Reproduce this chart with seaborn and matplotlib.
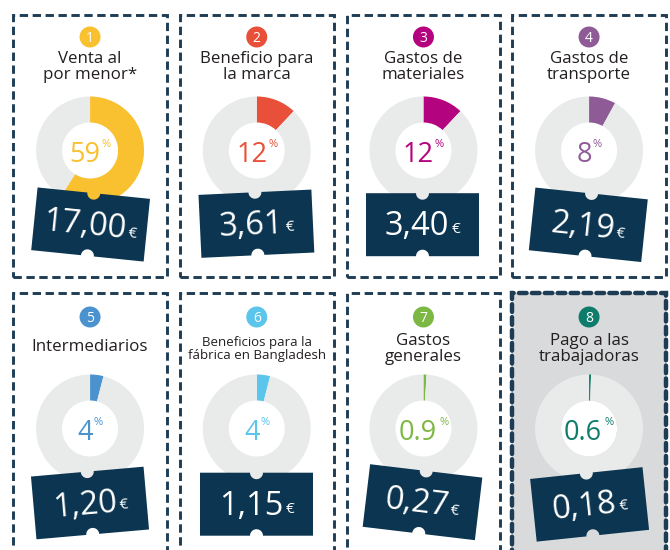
import numpy as np
import matplotlib
matplotlib.use("Agg")
import matplotlib.pyplot as plt
import seaborn as sns
from matplotlib import font_manager as fm
from matplotlib.patches import Rectangle, Circle, PathPatch
from matplotlib.path import Path
from matplotlib.transforms import Affine2D

# ---------------- data ----------------
badges = ["1", "2", "3", "4", "5", "6", "7", "8"]
titles = ["Venta al\npor menor*", "Beneficio para\nla marca", "Gastos de\nmateriales",
          "Gastos de\ntransporte", "Intermediarios", "Beneficios para la\nfábrica en Bangladesh",
          "Gastos\ngenerales", "Pago a las\ntrabajadoras"]
shares = [59, 12, 12, 8, 4, 4, 0.9, 0.6]
share_labels = ["59", "12", "12", "8", "4", "4", "0.9", "0.6"]
prices = ["17,00", "3,61", "3,40", "2,19", "1,20", "1,15", "0,27", "0,18"]
colors = ["#F9C02F", "#E8503A", "#B4037E", "#8E5B96", "#4A93CF", "#5BC5EC", "#7CB843", "#0E7C6B"]

# ---------------- style / layout ----------------
sns.set_theme(style="white")
plt.rcParams["lines.scale_dashes"] = False
plt.rcParams["font.family"] = ["Open Sans", "DejaVu Sans"]
palette = sns.color_palette(colors)

navy = "#0B3550"
border = "#1E3D55"
ring_grey = "#E9EAEA"
ink = "#231F20"


def fp(size):
    return fm.FontProperties(family=["Open Sans", "DejaVu Sans"], size=size)


W, H = 670, 550
fig = plt.figure(figsize=(6.7, 5.5), dpi=100)
ax = fig.add_axes([0, 0, 1, 1])
renderer = fig.canvas.get_renderer()


def Y(y):
    return H - y


panel_left = [13.3, 180.0, 346.7, 512.3]
panel_w, panel_h = 153.5, 261.7
row_top = [15.0, 293.3]
badge_y = [37.0, 317.0]
title_y = [67.0, 349.0]
donut_y = [150.5, 428.5]
r_out, ring = 54, 26
tickets = [(90.6, 224.5, -5.8), (256.4, 223.7, 2.7), (422.5, 224.7, 0.0), (588.3, 224.8, -6.0),
           (90.0, 503.0, 5.0), (256.5, 504.2, 0.0), (422.5, 502.2, -6.8), (589.6, 504.4, 6.0)]
tw, th_, notch = 113, 63, 6.5


def ticket_path(w, h, r):
    n = 16
    v = [(-w / 2, -h / 2), (-r, -h / 2)]
    for t in np.linspace(np.pi, 0, n):
        v.append((r * np.cos(t), -h / 2 + r * np.sin(t)))
    v += [(w / 2, -h / 2), (w / 2, h / 2), (r, h / 2)]
    for t in np.linspace(0, -np.pi, n):
        v.append((r * np.cos(t), h / 2 + r * np.sin(t)))
    v += [(-w / 2, h / 2), (-w / 2, -h / 2)]
    return Path(v, closed=True)


def width_px(s, prop):
    t = ax.text(0, 0, s, fontproperties=prop)
    w = t.get_window_extent(renderer=renderer).width
    t.remove()
    return w


def pair(big, small, cx, cy, angle, pbig, psmall, gap, small_rise, color, z):
    wb = width_px(big, pbig)
    ws = width_px(small, psmall)
    cap = 0.72 * pbig.get_size_in_points() * 100 / 72
    a = np.radians(angle)
    u = np.array([np.cos(a), np.sin(a)])
    n = np.array([-np.sin(a), np.cos(a)])
    c = np.array([cx, Y(cy)])
    start = c - u * (wb + gap + ws) / 2 - n * cap / 2
    ax.text(*start, big, fontproperties=pbig, color=color, rotation=angle,
            rotation_mode="anchor", ha="left", va="baseline", zorder=z)
    p2 = start + u * (wb + gap) + n * small_rise
    ax.text(*p2, small, fontproperties=psmall, color=color, rotation=angle,
            rotation_mode="anchor", ha="left", va="baseline", zorder=z)


for i in range(8):
    row, col = divmod(i, 4)
    x0 = panel_left[col]
    y0 = row_top[row]
    cx = x0 + panel_w / 2
    special = i == 7
    c = palette[i]

    rect = Rectangle((x0, Y(y0 + panel_h)), panel_w, panel_h,
                     facecolor="#D9DADB" if special else "white", edgecolor=border,
                     lw=3.2 if special else 2.1,
                     linestyle=(0, (5.5, 3.8)) if special else (0, (6.0, 3.3)),
                     zorder=1)
    if special:
        rect.set_capstyle("round")
    ax.add_patch(rect)

    # badge
    ax.add_patch(Circle((cx, Y(badge_y[row])), 10.5, facecolor=c, edgecolor="none", zorder=4))
    ax.text(cx, Y(badge_y[row]) - 0.72 * 10 * 100 / 72 / 2, badges[i], fontproperties=fp(10),
            color="white", ha="center", va="baseline", zorder=5)

    # title
    tsize = 9.5 if i == 5 else 12.2
    ty = title_y[row] - (2 if "\n" not in titles[i] else 0)
    ax.text(cx, Y(ty), titles[i], fontproperties=fp(tsize), color=ink,
            ha="center", va="center", linespacing=1.05 if i == 5 else 1.0, zorder=4)

    # donut
    dc = (cx, Y(donut_y[row]))
    ax.add_patch(Circle(dc, r_out - ring, facecolor="white", edgecolor="none", zorder=2))
    ax.pie([shares[i], 100 - shares[i]], colors=[c, ring_grey], startangle=90,
           counterclock=False, radius=r_out, center=dc,
           wedgeprops=dict(width=ring, linewidth=0, edgecolor="none", zorder=3))

    gap = 3 if "." in share_labels[i] else 1
    pair(share_labels[i], "%", cx, donut_y[row] + 1.5, 0.0,
         fp(19.5), fp(8), gap, 15, c, 4)

    # ticket
    tx, ty2, ang = tickets[i]
    tr = Affine2D().rotate_deg(ang).translate(tx, Y(ty2)) + ax.transData
    ax.add_patch(PathPatch(ticket_path(tw, th_, notch), facecolor=navy, edgecolor="none",
                           transform=tr, zorder=5))
    pair(prices[i], "€", tx, ty2 - 1, ang, fp(23.5), fp(11), 2, 2, "white", 6)

ax.set_xlim(0, W)
ax.set_ylim(0, H)
ax.set_aspect("auto")
ax.set_axis_off()
fig.savefig("out.png", dpi=100)
